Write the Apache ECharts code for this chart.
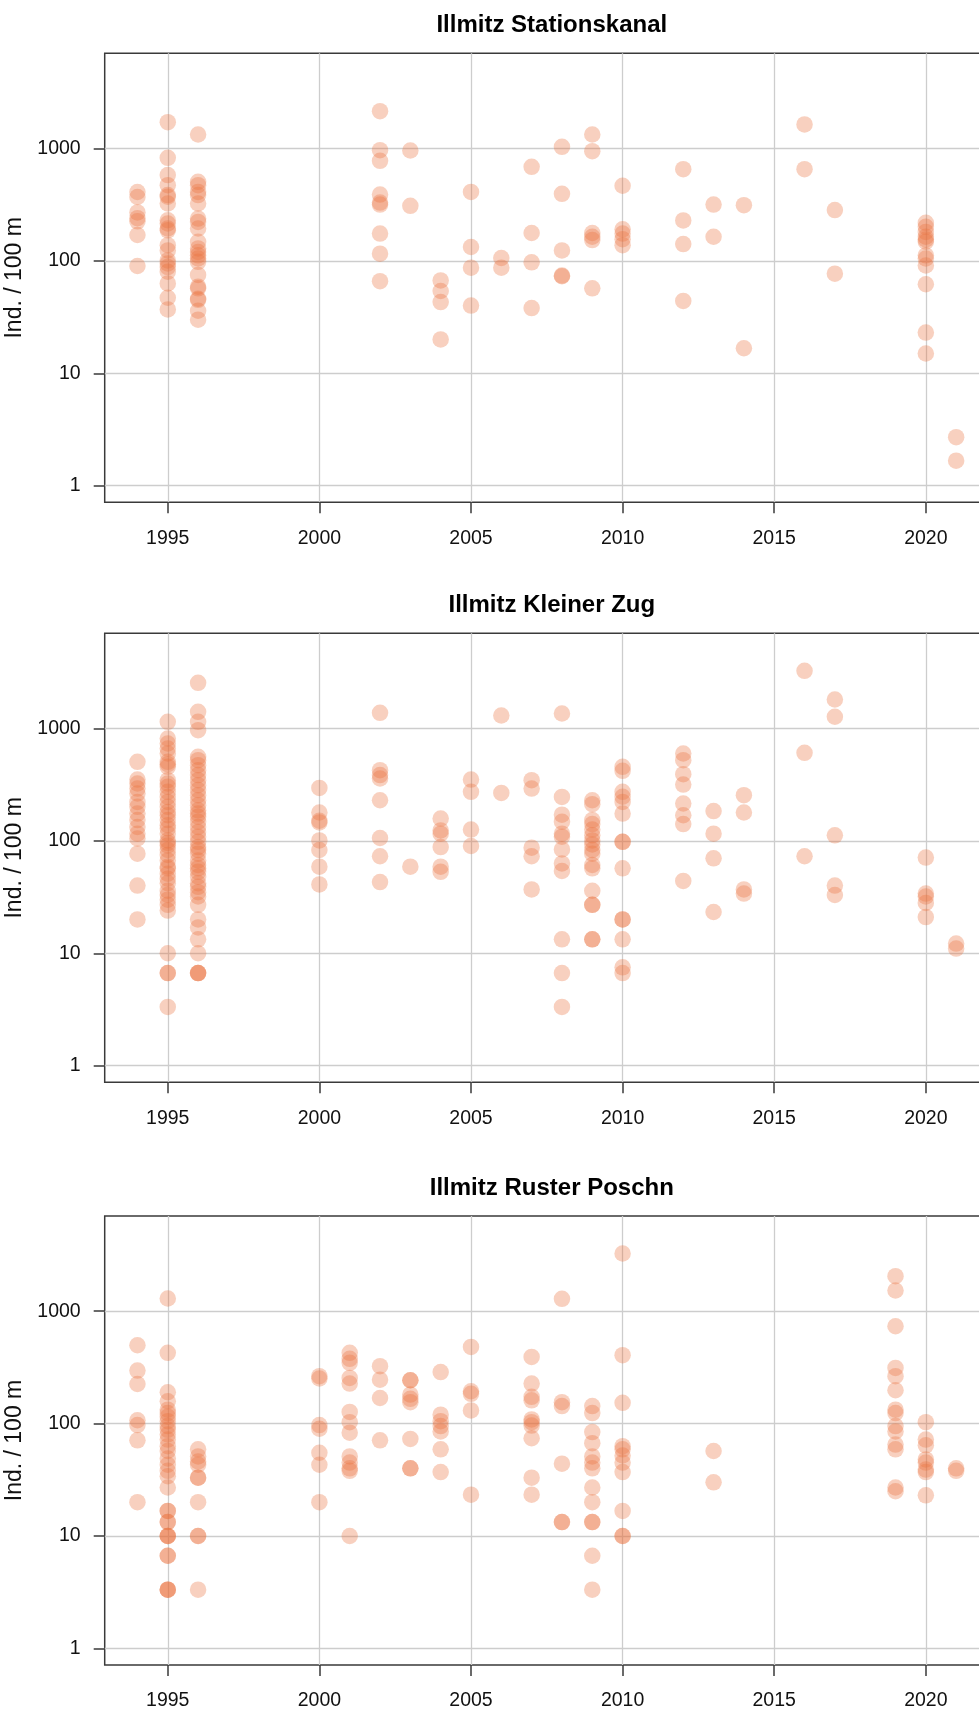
<!DOCTYPE html>
<html>
<head>
<meta charset="utf-8">
<script src="https://cdn.jsdelivr.net/npm/echarts@6/dist/echarts.min.js"></script>
<style>
  html, body { margin: 0; padding: 0; background: #fff; overflow: hidden; }
  #chart { width: 979px; height: 1711px; }
</style>
</head>
<body>
<div id="chart"></div>
<script>
// Panel titles (one station per panel)
const stationTitles = ['Illmitz Stationskanal', 'Illmitz Kleiner Zug', 'Illmitz Ruster Poschn'];

// Axis ticks
const yearTicks = [1995, 2000, 2005, 2010, 2015, 2020];
const densityTicks = [1, 10, 100, 1000];

// Illmitz Stationskanal: sampling years and densities (Ind. / 100 m)
const yearsStationskanal = [1994, 1995, 1996, 2002, 2003, 2004, 2005, 2006, 2007, 2008, 2009, 2010, 2012, 2013, 2014, 2016, 2017, 2020, 2021];
const valuesStationskanal = [
  [410, 370, 270, 240, 225, 170, 90],
  [1715, 826, 580, 472, 385, 372, 324, 230, 215, 194, 187, 138, 124, 101, 95, 88, 80, 63, 47, 37],
  [1332, 505, 472, 411, 385, 324, 238, 222, 194, 148, 129, 120, 112, 105, 98, 75, 59, 57, 46, 45, 36, 30],
  [2150, 966, 776, 389, 330, 317, 175, 116, 66],
  [960, 309],
  [67, 54, 43, 20],
  [411, 133, 87, 40],
  [106, 87],
  [687, 177, 97, 38],
  [1035, 395, 124, 73, 74],
  [1332, 947, 177, 164, 153, 57],
  [466, 191, 175, 156, 138],
  [655, 229, 141, 44],
  [317, 164],
  [313, 16.7],
  [1637, 655],
  [283, 77],
  [218, 201, 181, 164, 155, 148, 112, 105, 91, 62, 23, 15],
  [2.7, 1.67]
];

// Illmitz Kleiner Zug
const yearsKleinerZug = [1994, 1995, 1996, 2000, 2002, 2003, 2004, 2005, 2006, 2007, 2008, 2009, 2010, 2012, 2013, 2014, 2016, 2017, 2020, 2021];
const valuesKleinerZug = [
  [505, 351, 324, 292, 264, 222, 201, 175, 153, 133, 116, 105, 77, 40, 20],
  [1146, 815, 735, 663, 599, 505, 481, 456, 347, 324, 303, 273, 246, 222, 201, 181, 169, 153, 138, 129, 116, 101, 96, 91, 83, 75, 67, 59, 57, 51, 46, 42, 36, 33, 30, 27, 24, 10, 6.67, 6.67, 3.33],
  [2550, 1407, 1146, 966, 560, 523, 472, 426, 385, 347, 313, 283, 255, 230, 208, 187, 175, 164, 148, 133, 120, 109, 98, 88, 83, 77, 67, 61, 57, 53, 48, 42, 39, 35, 32, 27, 20, 17, 13.3, 10, 6.67, 6.67, 6.67],
  [296, 179, 151, 146, 101, 83, 59, 41],
  [1378, 426, 385, 359, 230, 106, 73, 43],
  [59],
  [158, 124, 116, 88, 59, 53],
  [351, 273, 126, 90],
  [1305, 267],
  [347, 292, 87, 73, 37],
  [1360, 246, 171, 148, 116, 109, 84, 63, 54, 13.3, 6.67, 3.33],
  [230, 212, 153, 141, 126, 112, 101, 93, 83, 77, 61, 57, 36, 27, 27, 13.3, 13.3],
  [456, 420, 273, 247, 222, 175, 98, 98, 57, 20, 20, 13.3, 7.5, 6.67],
  [599, 523, 392, 317, 215, 169, 141, 44],
  [184, 116, 70, 23.3],
  [255, 179, 37, 34],
  [3259, 607, 73],
  [1812, 1271, 112, 40, 33],
  [71, 34, 32, 28, 21],
  [12.2, 11]
];

// Illmitz Ruster Poschn
const yearsRusterPoschn = [1994, 1995, 1996, 2000, 2001, 2002, 2003, 2004, 2005, 2007, 2008, 2009, 2010, 2013, 2019, 2020, 2021];
const valuesRusterPoschn = [
  [498, 296, 225, 107, 97, 71, 20],
  [1297, 426, 190, 158, 133, 124, 115, 105, 95, 88, 80, 72, 63, 57, 49, 43, 38, 34, 27, 16.7, 16.7, 13.3, 13.3, 10, 10, 10, 6.67, 6.67, 3.33, 3.33, 3.33],
  [59, 51, 46, 43, 33, 33, 20, 10, 10, 3.33],
  [264, 252, 97, 90, 55, 43, 20],
  [426, 377, 347, 255, 227, 127, 103, 83, 51, 45, 40, 38, 10],
  [324, 246, 169, 71],
  [243, 243, 181, 166, 155, 73, 40, 40],
  [287, 120, 105, 95, 85, 59, 37],
  [481, 194, 184, 131, 23.3],
  [392, 227, 173, 161, 109, 103, 96, 74, 33, 23.3],
  [1288, 155, 143, 44, 13.3, 13.3],
  [143, 124, 84, 67, 51, 45, 40, 27, 20, 13.3, 13.3, 6.67, 3.33],
  [3259, 406, 153, 63, 59, 52, 45, 37, 16.7, 10, 10],
  [57, 30],
  [2050, 1527, 735, 313, 264, 198, 133, 124, 95, 85, 65, 59, 27, 25],
  [103, 72, 64, 48, 45, 39, 37, 23],
  [40, 38]
];

const panels = [
  { years: yearsStationskanal, values: valuesStationskanal },
  { years: yearsKleinerZug, values: valuesKleinerZug },
  { years: yearsRusterPoschn, values: valuesRusterPoschn }
];

// Axis ranges: data range padded by 4 % on each side (log scale for y, limits 1 .. 5000)
const X_MIN = 1994 - 0.04 * 27, X_MAX = 2021 + 0.04 * 27;
const LOG_LO = 0, LOG_HI = Math.log10(5000), LOG_PAD = 0.04 * (LOG_HI - LOG_LO);
const Y_MIN = Math.pow(10, LOG_LO - LOG_PAD), Y_MAX = Math.pow(10, LOG_HI + LOG_PAD);

const FONT = '"Liberation Sans", Arial, Helvetica, sans-serif';
const panelTops = [53.3, 633.3, 1216];
const PLOT_LEFT = 104.7, PLOT_W = 884.2, PLOT_H = 449;
const dotColor = 'rgba(233, 112, 62, 0.41)';

const grids = [], xAxes = [], yAxes = [], series = [], titles = [];
panels.forEach((p, i) => {
  const data = [];
  p.years.forEach((yr, j) => p.values[j].forEach(v => data.push([yr, v])));

  // The plotting box runs a little past the right edge of the canvas
  grids.push({
    left: PLOT_LEFT, top: panelTops[i], width: PLOT_W, height: PLOT_H,
    containLabel: false, outerBoundsMode: 'none',
    show: true, borderColor: '#3a3a3a', borderWidth: 1.5, backgroundColor: 'transparent'
  });
  titles.push({
    text: stationTitles[i],
    left: PLOT_LEFT + PLOT_W / 2, top: panelTops[i] - 45, textAlign: 'center',
    textStyle: { fontFamily: FONT, fontWeight: 'bold', fontSize: 24, color: '#000' }
  });
  xAxes.push({
    gridIndex: i, type: 'value', min: X_MIN, max: X_MAX,
    axisLine: { show: false },
    axisTick: { show: true, length: 11, inside: false, customValues: yearTicks,
                lineStyle: { color: '#3a3a3a', width: 1.5 } },
    axisLabel: { show: true, margin: 26, customValues: yearTicks,
                 fontFamily: FONT, fontSize: 19.5, color: '#111',
                 formatter: v => String(Math.round(v)) },
    splitLine: { show: true, lineStyle: { color: '#cdcdcd', width: 1.3 } }
  });
  yAxes.push({
    gridIndex: i, type: 'log', logBase: 10, min: Y_MIN, max: Y_MAX,
    name: 'Ind. / 100 m', nameLocation: 'middle', nameGap: 70, nameRotate: 90,
    nameTextStyle: { fontFamily: FONT, fontSize: 23, color: '#111' },
    axisLine: { show: false },
    axisTick: { show: true, length: 11, inside: false, customValues: densityTicks,
                lineStyle: { color: '#3a3a3a', width: 1.5 } },
    axisLabel: { show: true, margin: 24, customValues: densityTicks,
                 fontFamily: FONT, fontSize: 19.5, color: '#111',
                 formatter: v => String(Math.round(v)) },
    splitLine: { show: true, lineStyle: { color: '#cdcdcd', width: 1.3 } }
  });
  series.push({
    type: 'scatter', xAxisIndex: i, yAxisIndex: i, data: data,
    symbol: 'circle', symbolSize: 16.5,
    itemStyle: { color: dotColor, borderWidth: 0 },
    emphasis: { disabled: true },
    clip: false, z: 5
  });
});

const chart = echarts.init(document.getElementById('chart'), null, { renderer: 'canvas' });
chart.setOption({
  animation: false,
  backgroundColor: '#ffffff',
  title: titles,
  grid: grids,
  xAxis: xAxes,
  yAxis: yAxes,
  series: series
});
</script>
</body>
</html>
